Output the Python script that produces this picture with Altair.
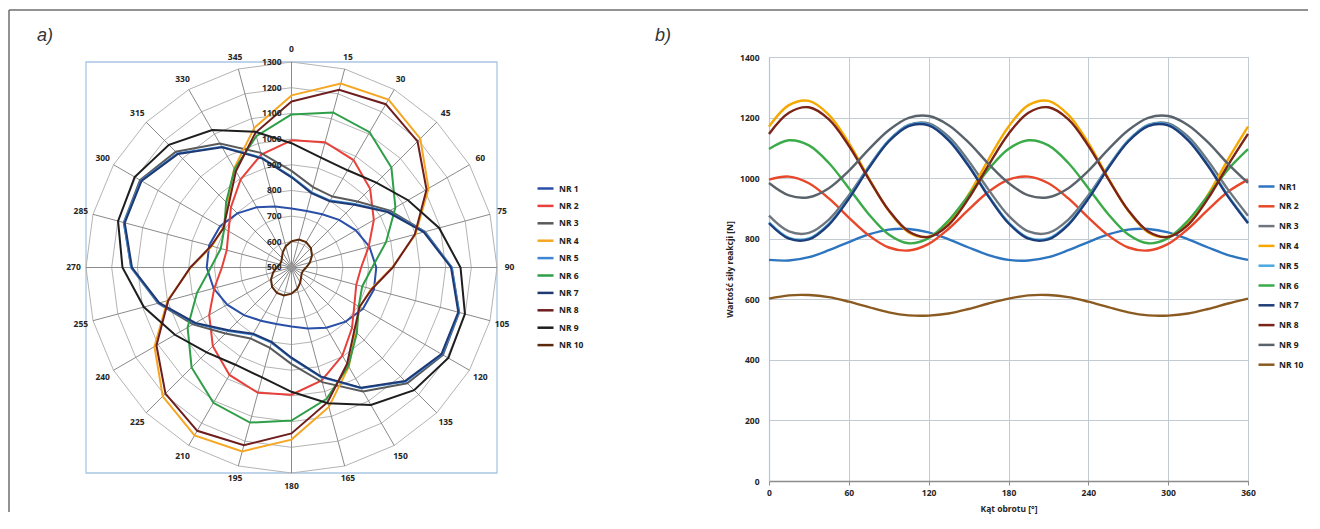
import altair as alt
import pandas as pd

angles = [0, 15, 30, 45, 60, 75, 90, 105, 120, 135, 150, 165,
          180, 195, 210, 225, 240, 255, 270, 285, 300, 315, 330, 345, 360]

nr1 = [730, 728, 739, 762, 789, 814, 830, 832, 821, 798, 771, 746,
       730, 728, 739, 762, 789, 814, 830, 832, 821, 798, 771, 746, 730]
nr2 = [995, 1005, 983, 933, 870, 811, 771, 761, 783, 833, 896, 955,
       995, 1005, 983, 933, 870, 811, 771, 761, 783, 833, 896, 955, 995]
nr3 = [876, 824, 819, 863, 943, 1038, 1124, 1176, 1181, 1137, 1057, 962,
       876, 824, 819, 863, 943, 1038, 1124, 1176, 1181, 1137, 1057, 962, 876]
nr4 = [1170, 1241, 1255, 1209, 1116, 1000, 892, 821, 807, 853, 946, 1062,
       1170, 1241, 1255, 1209, 1116, 1000, 892, 821, 807, 853, 946, 1062, 1170]
nr5 = [854, 803, 801, 849, 935, 1036, 1124, 1175, 1177, 1128, 1043, 942,
       854, 803, 801, 849, 935, 1036, 1124, 1175, 1177, 1128, 1043, 942, 854]
nr6 = [1096, 1125, 1108, 1050, 967, 881, 814, 785, 802, 860, 943, 1029,
       1096, 1125, 1108, 1050, 967, 881, 814, 785, 802, 860, 943, 1029, 1096]
nr7 = [851, 800, 798, 846, 932, 1033, 1121, 1172, 1174, 1125, 1040, 939,
       851, 800, 798, 846, 932, 1033, 1121, 1172, 1174, 1125, 1040, 939, 851]
nr8 = [1146, 1216, 1234, 1194, 1107, 997, 894, 824, 806, 846, 933, 1043,
       1146, 1216, 1234, 1194, 1107, 997, 894, 824, 806, 846, 933, 1043, 1146]
nr9 = [984, 943, 937, 967, 1024, 1095, 1158, 1199, 1205, 1175, 1118, 1047,
       984, 943, 937, 967, 1024, 1095, 1158, 1199, 1205, 1175, 1118, 1047, 984]
nr10 = [602, 613, 614, 607, 592, 574, 557, 547, 546, 553, 568, 586,
        602, 613, 614, 607, 592, 574, 557, 547, 546, 553, 568, 586, 602]

series_values = [nr1, nr2, nr3, nr4, nr5, nr6, nr7, nr8, nr9, nr10]
names_a = ["NR 1", "NR 2", "NR 3", "NR 4", "NR 5", "NR 6", "NR 7", "NR 8", "NR 9", "NR 10"]
names_b = ["NR1", "NR 2", "NR 3", "NR 4", "NR 5", "NR 6", "NR 7", "NR 8", "NR 9", "NR 10"]
colors_a = ["#2A4FA8", "#E8403A", "#5A5A5A", "#F5A623", "#3D86D6",
            "#2E9E48", "#1F3A72", "#6E1E1E", "#1E1E1E", "#5A2A0A"]
colors_b = ["#2E75C0", "#E8482A", "#6F767E", "#F5A800", "#4BA8E0",
            "#3BAA48", "#1F3D78", "#7B2418", "#5A636C", "#8B5A20"]

ring_values = [600, 700, 800, 900, 1000, 1100, 1200, 1300]
radial_ticks = [500, 600, 700, 800, 900, 1000, 1100, 1200, 1300]
spoke_angles = [0, 15, 30, 45, 60, 75, 90, 105, 120, 135, 150, 165,
                180, 195, 210, 225, 240, 255, 270, 285, 300, 315, 330, 345]
x_ticks = [0, 60, 120, 180, 240, 300, 360]
y_ticks = [0, 200, 400, 600, 800, 1000, 1200, 1400]
panel_labels = ["a)", "b)"]
r_min, r_max = 500, 1300

rows_a, rows_b = [], []
for na, nb, vals in zip(names_a, names_b, series_values):
    for ang, v in zip(angles, vals):
        rows_a.append({"series": na, "angle": ang, "value": v})
        rows_b.append({"series": nb, "angle": ang, "value": v})
df_a = pd.DataFrame(rows_a)
df_b = pd.DataFrame(rows_b)

df_rings = pd.DataFrame([{"ring": rv, "angle": a, "value": rv} for rv in ring_values for a in angles])
df_spokes = pd.DataFrame({"angle": spoke_angles, "value": [r_max] * len(spoke_angles)})
df_rlab = pd.DataFrame({"value": radial_ticks, "angle": [0] * len(radial_ticks)})
df_alab = pd.DataFrame({"angle": spoke_angles, "label": [str(a) for a in spoke_angles]})
df_frame = pd.DataFrame({"value": [r_max], "angle": [0]})
df_center = pd.DataFrame({"value": [r_min], "angle": [0]})

FONT = "Noto Sans"
FS = 8.5
R_EXPR = f"(datum.value - {r_min}) / {r_max - r_min}"
XS = alt.Scale(domain=[-1, 1], nice=False, zero=False)
YS = alt.Scale(domain=[-1.03893, 1.02433], nice=False, zero=False)


def polar(ch, r_expr=R_EXPR):
    return (ch.transform_calculate(r=r_expr)
              .transform_calculate(px="datum.r * sin(datum.angle * PI / 180)")
              .transform_calculate(py="datum.r * cos(datum.angle * PI / 180)"))


PX = alt.X("px:Q", scale=XS, axis=None)
PY = alt.Y("py:Q", scale=YS, axis=None)

# ---------------- panel a: polar chart ----------------
frame = (alt.Chart(df_frame)
         .transform_calculate(r=R_EXPR)
         .transform_calculate(nr="-datum.r")
         .mark_rect(fillOpacity=0, stroke="#A9C6E4", strokeWidth=1.3)
         .encode(x=alt.X("nr:Q", scale=XS, axis=None), x2="r:Q",
                 y=alt.Y("nr:Q", scale=YS, axis=None), y2="r:Q"))

rings = polar(alt.Chart(df_rings)).mark_line(color="#B4B4B4", strokeWidth=1).encode(
    x=PX, y=PY, detail="ring:N", order="angle:Q")

spokes = (polar(alt.Chart(df_spokes))
          .transform_calculate(c="0")
          .mark_rule(color="#8A8A8A", strokeWidth=1)
          .encode(x=alt.X("c:Q", scale=XS, axis=None), y=alt.Y("c:Q", scale=YS, axis=None),
                  x2="px:Q", y2="py:Q"))

center = polar(alt.Chart(df_center)).mark_circle(color="#9A9A9A", size=45, opacity=0.7).encode(x=PX, y=PY)

curves_a = polar(alt.Chart(df_a)).mark_line(strokeWidth=2).encode(
    x=PX, y=PY, order="angle:Q",
    color=alt.Color("series:N", sort=names_a,
                    scale=alt.Scale(domain=names_a, range=colors_a),
                    legend=alt.Legend(orient="none", legendX=450, legendY=122, title=None,
                                      symbolType="stroke", symbolSize=256, symbolStrokeWidth=2.5,
                                      labelFont=FONT, labelFontSize=FS, labelFontWeight="bold",
                                      labelColor="#222222", rowPadding=2.4, padding=0,
                                      labelOffset=4)))

rlabels = polar(alt.Chart(df_rlab)).mark_text(
    align="right", baseline="middle", dx=-10, font=FONT, fontSize=FS,
    fontWeight="bold", color="#262626").encode(
    x=PX, y=PY, text=alt.Text("value:Q", format="d"))

alabels = polar(alt.Chart(df_alab), r_expr="1.061").mark_text(
    align="center", baseline="middle", font=FONT, fontSize=FS,
    fontWeight="bold", color="#262626").encode(x=PX, y=PY, text="label:N")

border = alt.Chart(pd.DataFrame({"k": [0]}))
border_top = border.mark_rule(color="#6E6E6E", strokeWidth=1.5).encode(
    x=alt.value(-77), x2=alt.value(1222), y=alt.value(-47))
border_left = border.mark_rule(color="#6E6E6E", strokeWidth=1.5).encode(
    x=alt.value(-77), y=alt.value(-47), y2=alt.value(455))

tag_a = alt.Chart(pd.DataFrame({"label": [panel_labels[0]]})).mark_text(
    align="left", baseline="middle", font="Liberation Sans", fontSize=18,
    fontStyle="italic", color="#333333").encode(
    x=alt.value(-49), y=alt.value(-21), text="label:N")

panel_a = alt.layer(border_top, border_left, frame, rings, spokes, center, curves_a,
                    rlabels, alabels, tag_a).properties(
    width=411, height=424, view=alt.ViewBackground(strokeWidth=0))

# ---------------- panel b: line chart ----------------
lines_b = alt.Chart(df_b).mark_line(strokeWidth=2.4, interpolate="catmull-rom").encode(
    x=alt.X("angle:Q", scale=alt.Scale(domain=[0, 360], nice=False, zero=False),
            axis=alt.Axis(values=x_ticks, format="d", grid=True, gridColor="#C2CAD2", gridWidth=1,
                          domainColor="#8C8C8C", domainWidth=1.5, tickColor="#8C8C8C",
                          tickSize=4, labelFont=FONT, labelFontSize=FS, labelFontWeight="bold",
                          labelColor="#262626", labelPadding=3, labelFlush=False,
                          title="Kąt obrotu [°]", titleFont=FONT, titleFontSize=FS,
                          titleFontWeight="bold", titleColor="#262626", titlePadding=8)),
    y=alt.Y("value:Q", scale=alt.Scale(domain=[0, 1400], nice=False, zero=True),
            axis=alt.Axis(values=y_ticks, format="d", grid=True, gridColor="#C2CAD2", gridWidth=1,
                          domainColor="#AFC6DE", domainWidth=1.2, ticks=False,
                          labelFont=FONT, labelFontSize=FS, labelFontWeight="bold",
                          labelColor="#262626", labelPadding=10, labelFlush=False,
                          title="Wartość siły reakcji [N]", titleFont=FONT, titleFontSize=FS,
                          titleFontWeight="bold", titleColor="#262626", titlePadding=5)),
    color=alt.Color("series:N", sort=names_b,
                    scale=alt.Scale(domain=names_b, range=colors_b),
                    legend=alt.Legend(orient="none", legendX=488, legendY=120, title=None,
                                      symbolType="stroke", symbolSize=256, symbolStrokeWidth=2.5,
                                      labelFont=FONT, labelFontSize=FS, labelFontWeight="bold",
                                      labelColor="#222222", rowPadding=4.8, padding=0,
                                      labelOffset=3)))

tag_b = alt.Chart(pd.DataFrame({"label": [panel_labels[1]]})).mark_text(
    align="left", baseline="middle", font="Liberation Sans", fontSize=18,
    fontStyle="italic", color="#333333").encode(
    x=alt.value(-114), y=alt.value(-21), text="label:N")

panel_b = alt.layer(lines_b, tag_b).properties(
    width=479, height=424, view=alt.ViewBackground(stroke="#C2CAD2", strokeWidth=1))

chart = (alt.hconcat(panel_a, panel_b, spacing=272, bounds="flush")
         .resolve_scale(color="independent")
         .properties(padding={"left": 0, "top": 1, "right": 0, "bottom": 0},
                     background="white"))

chart.save("out.html", embed_options={"renderer": "svg", "actions": False})
